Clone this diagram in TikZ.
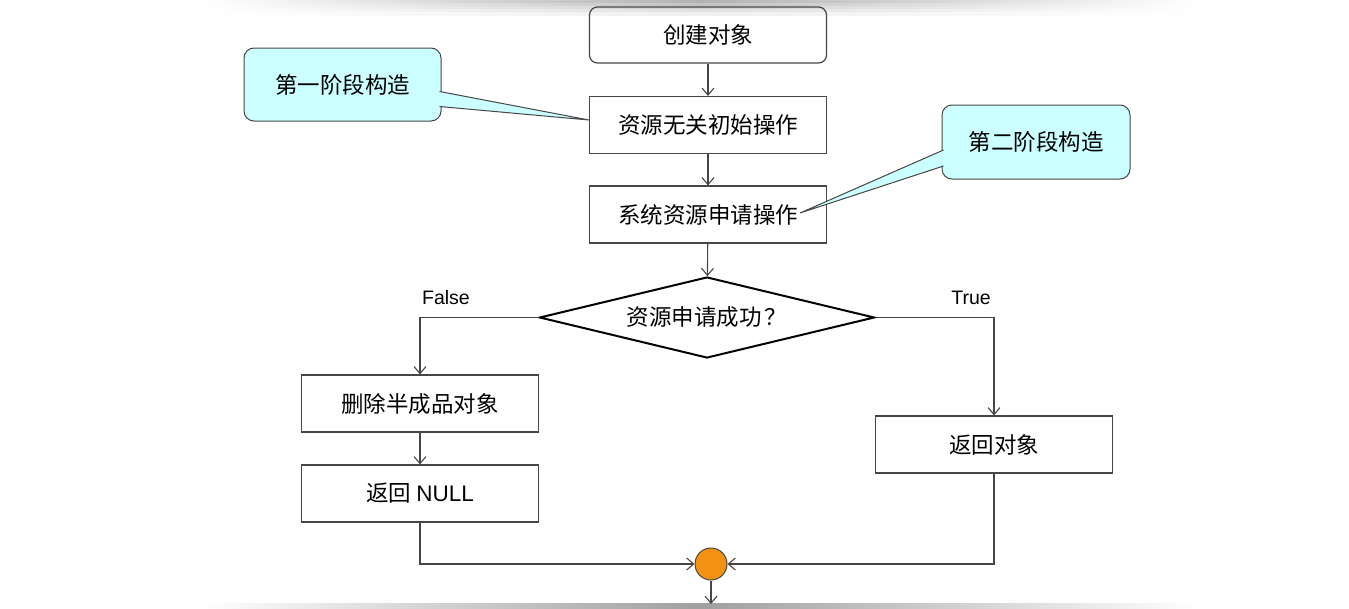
\documentclass[tikz,border=0pt]{standalone}
\usepackage{fontspec}
\setmainfont{Liberation Sans}
\newfontfamily\cjk{Noto Sans CJK SC}
\usetikzlibrary{shapes.geometric,arrows.meta}
\definecolor{notecyan}{RGB}{204,255,255}
\definecolor{mergeorange}{RGB}{243,146,18}
\definecolor{linegray}{RGB}{70,70,70}

\begin{document}
\begin{tikzpicture}[x=1pt, y=-1pt,
    stepbox/.style={draw=linegray, line width=1.2pt, minimum width=237pt, minimum height=57pt, align=center, font=\cjk\fontsize{22.5}{26}\selectfont},
    startbox/.style={stepbox, rounded corners=8pt},
    decision/.style={diamond, draw=black, line width=2pt, aspect=4, inner sep=0pt, minimum width=335pt, minimum height=81pt, font=\cjk\fontsize{22.5}{26}\selectfont},
    note/.style={draw=linegray, line width=1pt, fill=notecyan, rounded corners=10pt, font=\cjk\fontsize{22.5}{26}\selectfont},
    notetail/.style={draw=linegray, line width=1pt, fill=notecyan},
    merge/.style={circle, draw=linegray, line width=1pt, fill=mergeorange, minimum size=32pt, inner sep=0pt},
    branch/.style={font=\fontsize{19.5}{23}\selectfont},
    arrow/.style={-{Straight Barb[length=7pt, width=12pt]}, line width=1.1pt, linegray}
]
\useasboundingbox (0,0) rectangle (1349,608);

% Shadow bands
\foreach \i in {0,...,4}
  \shade[left color=white, right color=white, middle color=gray!\number\numexpr 60-12*\i\relax] (200,3*\i) rectangle (1200,3*\i+3);
\shade[left color=white, right color=white, middle color=gray!75] (200,603) rectangle (1200,608);

% Main steps
\node[startbox, minimum height=56pt] (create) at (708,35) {创建对象};
\node[stepbox] (init) at (708,125) {资源无关初始操作};
\node[stepbox] (alloc) at (708,214.5) {系统资源申请操作};
\node[decision] (check) at (707,317.5) {资源申请成功\hspace{3pt}？};

% Branches
\node[stepbox] (undo) at (420,403.5) {删除半成品对象};
\node[stepbox] (retnull) at (420,493.5) {返回 {\fontspec{Liberation Sans}NULL}};
\node[stepbox] (retobj) at (994,444.5) {返回对象};
\node[merge] (join) at (711,564) {};
\coordinate (out) at (711,604);

% Notes
\node[note, minimum width=197pt, minimum height=73pt] (first) at (342.5,84.5) {第一阶段构造};
\node[note, minimum width=188pt, minimum height=74pt] (second) at (1036,142) {第二阶段构造};
\filldraw[notetail] ([xshift=-2pt, yshift=-7pt]first.east) -- ([yshift=5pt]init.west) -- ([xshift=-2pt, yshift=-22pt]first.east);
\filldraw[notetail] ([xshift=2pt, yshift=-8pt]second.west) -- (800,213) -- ([xshift=2pt, yshift=-24pt]second.west);

% Arrows
\draw[arrow] (create) -- (init);
\draw[arrow] (init) -- (alloc);
\draw[arrow] (alloc) -- (check);
\draw[arrow] (check.west) -| (undo.north);
\draw[arrow] (check.east) -| (retobj.north);
\draw[arrow] (undo) -- (retnull);
\draw[arrow] (retnull.south) |- (join.west);
\draw[arrow] (retobj.south) |- (join.east);
\draw[arrow] (join) -- (out);

% Labels on branches
\node[branch] (nolabel) at (446,298) {False};
\node[branch] (yeslabel) at (971,298) {True};

\end{tikzpicture}
\end{document}
